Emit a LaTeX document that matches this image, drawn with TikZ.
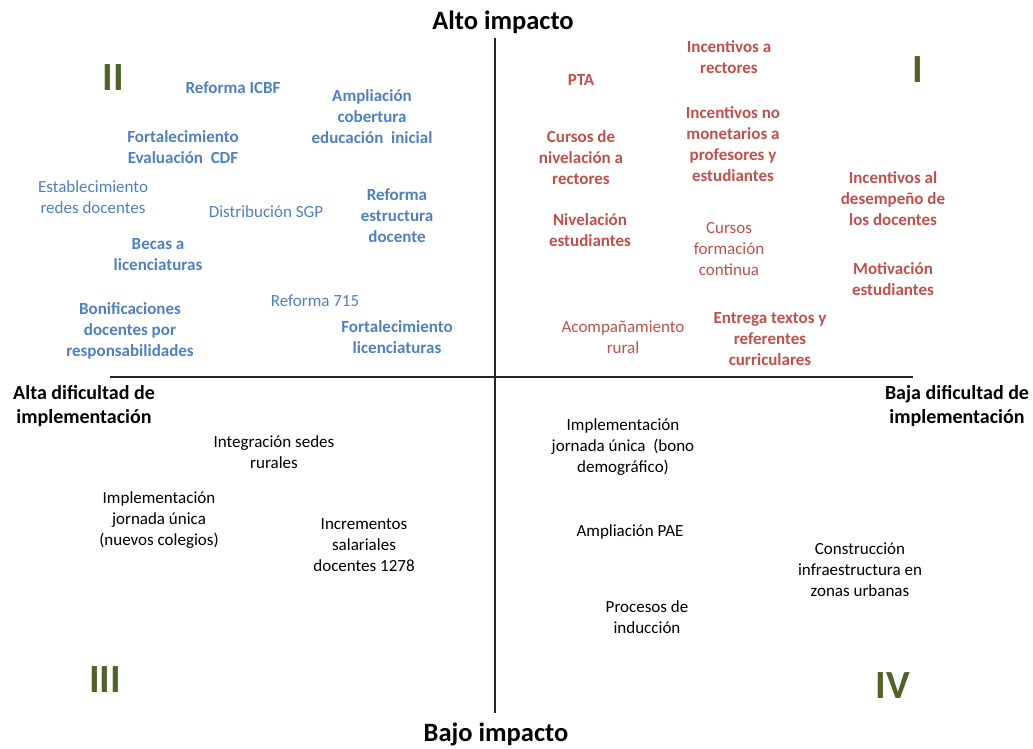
\documentclass[tikz,border=0pt]{standalone}
\usepackage{fontspec}
\setmainfont{Carlito}
\usepackage{tikz}
\usetikzlibrary{positioning}
\definecolor{azul}{HTML}{4F81BD}
\definecolor{rojo}{HTML}{C0504D}
\definecolor{verde}{HTML}{4F6228}
\tikzstyle{item} = [inner sep=0pt, align=center, font=\fontsize{17}{21}\selectfont]
\tikzstyle{negrita} = [font=\fontsize{17}{21}\selectfont\bfseries]
\tikzstyle{q1} = [item, text=rojo]
\tikzstyle{q2} = [item, text=azul]
\tikzstyle{q34} = [item, text=black]
\tikzstyle{eje} = [inner sep=0pt, align=center, font=\fontsize{20}{24}\selectfont\bfseries]
\tikzstyle{titulo} = [inner sep=0pt, font=\fontsize{26.5}{30}\selectfont\bfseries]
\tikzstyle{cuadrante} = [inner sep=0pt, text=verde, font=\fontsize{40}{44}\selectfont\bfseries]
\tikzstyle{linea} = [line width=1.4pt, draw=black!85]

\begin{document}
\begin{tikzpicture}[x=1pt, y=-1pt]
	\useasboundingbox (0,0) rectangle (1033,748);
	% ejes
	\coordinate (izq) at (110,377);
	\coordinate (der) at (913,377);
	\coordinate (arriba) at (495,38);
	\coordinate (abajo) at (495,713);
	\draw [linea] (izq) -- (der);
	\draw [linea] (arriba) -- (abajo);
	\node (alto) [titulo] at (503,22) {Alto impacto};
	\node (bajo) [titulo] at (496,734) {Bajo impacto};
	\node (alta) [eje] at (84,406) {Alta dificultad de\\implementación};
	\node (baja) [eje] at (957,406) {Baja dificultad de\\implementación};
	% cuadrantes
	\node (cI) [cuadrante] at (918,70) {I};
	\node (cII) [cuadrante] at (113,78) {II};
	\node (cIII) [cuadrante] at (105,680) {III};
	\node (cIV) [cuadrante] at (893,686) {IV};
	% cuadrante II
	\node (icbf) [q2, negrita] at (233,88) {Reforma ICBF};
	\node (inicial) [q2, negrita] at (372,117) {Ampliación\\cobertura\\educación\ \ inicial};
	\node (cdf) [q2, negrita] at (183,147) {Fortalecimiento\\Evaluación\ \ CDF};
	\node (redes) [q2] at (93,197) {Establecimiento\\redes docentes};
	\node (sgp) [q2] at (266,212) {Distribución SGP};
	\node (estructura) [q2, negrita] at (397,216) {Reforma\\estructura\\docente};
	\node (becas) [q2, negrita] at (158,255) {Becas a\\licenciaturas};
	\node (r715) [q2] at (315,301) {Reforma 715};
	\node (bonif) [q2, negrita] at (130,331) {Bonificaciones\\docentes por\\responsabilidades};
	\node (licen) [q2, negrita] at (397,337) {Fortalecimiento\\licenciaturas};
	% cuadrante I
	\node (pta) [q1, negrita] at (581,80) {PTA};
	\node (rect) [q1, negrita] at (729,57) {Incentivos a\\rectores};
	\node (nomon) [q1, negrita] at (733,144) {Incentivos no\\monetarios a\\profesores y\\estudiantes};
	\node (nivrect) [q1, negrita] at (581,158) {Cursos de\\nivelación a\\rectores};
	\node (nivest) [q1, negrita] at (590,230) {Nivelación\\estudiantes};
	\node (formacion) [q1] at (729,249) {Cursos\\formación\\continua};
	\node (desemp) [q1, negrita] at (893,199) {Incentivos al\\desempeño de\\los docentes};
	\node (motiv) [q1, negrita] at (893,279) {Motivación\\estudiantes};
	\node (acomp) [q1] at (623,337) {Acompañamiento\\rural};
	\node (textos) [q1, negrita] at (770,339) {Entrega textos y\\referentes\\curriculares};
	% cuadrante III
	\node (sedes) [q34] at (274,452) {Integración sedes\\rurales};
	\node (jnuevos) [q34] at (159,520) {Implementación\\jornada única\\(nuevos colegios)};
	\node (salarios) [q34] at (364,545) {Incrementos\\salariales\\docentes 1278};
	% cuadrante IV
	\node (jbono) [q34] at (623,447) {Implementación\\jornada única\ \ (bono\\demográfico)};
	\node (pae) [q34] at (630,532) {Ampliación PAE};
	\node (infra) [q34] at (860,570) {Construcción\\infraestructura en\\zonas urbanas};
	\node (induccion) [q34] at (647,617) {Procesos de\\inducción};
\end{tikzpicture}
\end{document}
